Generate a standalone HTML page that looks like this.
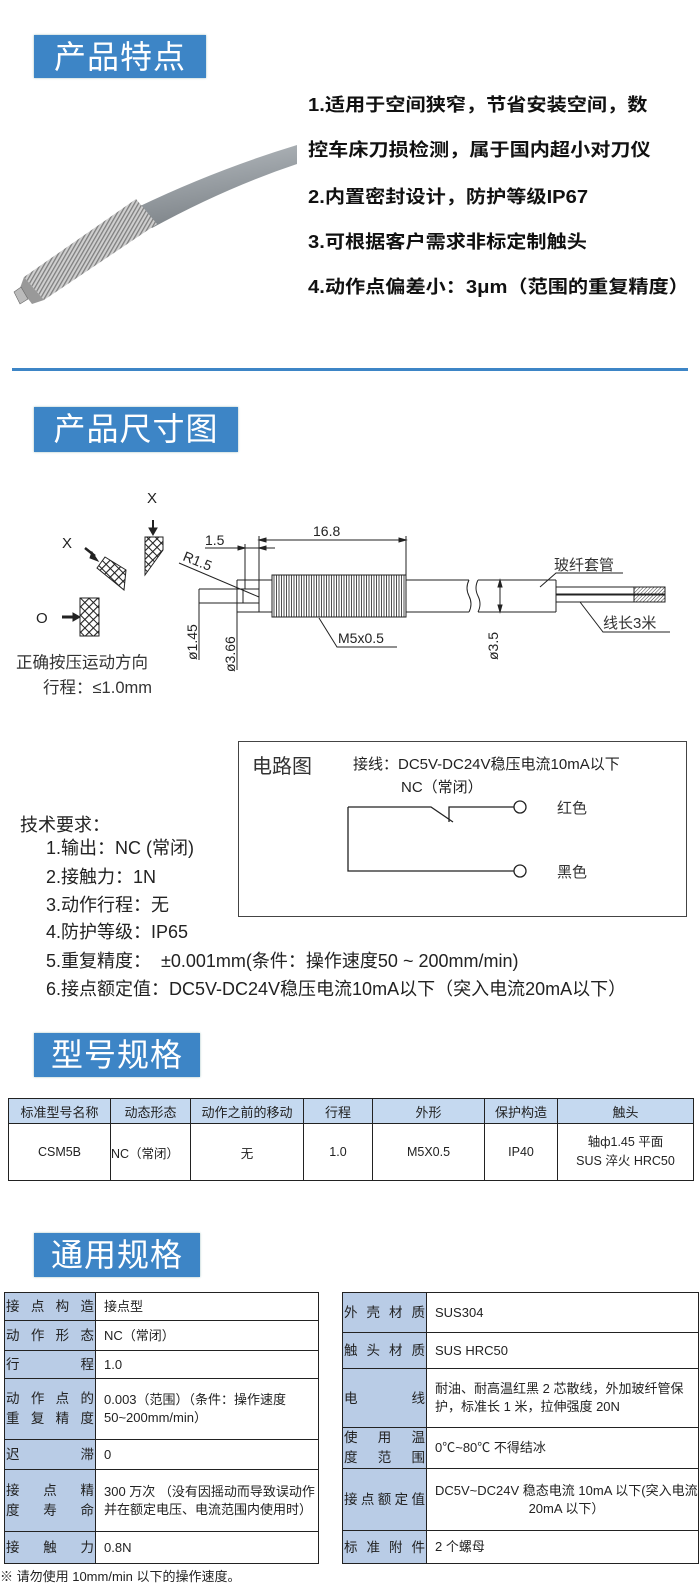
<!DOCTYPE html>
<html><head><meta charset="utf-8"><style>
*{margin:0;padding:0;box-sizing:border-box}
body{width:700px;height:1591px;background:#fff;position:relative;overflow:hidden;font-family:"Liberation Sans","Noto Sans CJK SC",sans-serif;color:#222}
.a{position:absolute;white-space:nowrap}
.hdr{position:absolute;background:#3d85c6;color:#fff;font-size:32px;text-align:center;line-height:44px;letter-spacing:1px;box-shadow:0 0 2px #9bb}
.feat{position:absolute;left:308px;font-size:18px;font-weight:bold;transform:scaleX(1.12);transform-origin:left center;line-height:20px;color:#111;white-space:nowrap}
.tech{position:absolute;left:46px;font-size:18px;color:#222;white-space:nowrap;line-height:20px}
table{border-collapse:collapse;position:absolute}
td{border:1.5px solid #222;font-size:12.5px;color:#222}
.mt td{text-align:center}
.mt tr.h td{background:#c5d9f0;font-size:13px}
.st td.l{background:#b9cce6;font-size:13.5px;padding:0 1px;text-align:justify;text-align-last:justify;line-height:27px}
.st td.v{padding-left:8px;font-size:13px;line-height:18px}
</style></head><body>

<div class="hdr" style="left:34px;top:35px;width:172px;height:43px">产品特点</div>

<svg class="a" style="left:0;top:130px" width="305" height="190" viewBox="0 130 305 190">
<defs>
<linearGradient id="cab" x1="0" y1="0" x2="0.3" y2="1"><stop offset="0" stop-color="#b9bec2"/><stop offset="0.5" stop-color="#9aa0a5"/><stop offset="1" stop-color="#7d8388"/></linearGradient>
<pattern id="thr" width="3.4" height="10" patternUnits="userSpaceOnUse" patternTransform="rotate(30)"><rect width="3.4" height="10" fill="#cfcfcf"/><rect width="1.3" height="10" fill="#7f7f7f"/></pattern>
</defs>
<path d="M138,207 Q215,170 297,145 L297,164 Q225,188 152,228 Z" fill="url(#cab)"/>
<polygon points="136,199 157,224 44,300 24,277" fill="url(#thr)"/>
<polygon points="24,277 44,300 32,304 20,288" fill="#999"/>
<polygon points="14,292 21,287 28,299 20,304" fill="#bbb" stroke="#666" stroke-width="0.6"/>
</svg>

<div class="feat" style="top:95px">1.适用于空间狭窄，节省安装空间，数</div>
<div class="feat" style="top:140px">控车床刀损检测，属于国内超小对刀仪</div>
<div class="feat" style="top:187px">2.内置密封设计，防护等级IP67</div>
<div class="feat" style="top:232px">3.可根据客户需求非标定制触头</div>
<div class="feat" style="top:277px">4.动作点偏差小：3μm（范围的重复精度）</div>

<div class="a" style="left:12px;top:368px;width:676px;height:3px;background:#3d85c6"></div>

<div class="hdr" style="left:34px;top:407px;width:204px;height:45px">产品尺寸图</div>

<svg class="a" style="left:0;top:470px" width="700" height="240" viewBox="0 470 700 240" font-family="Liberation Sans, Noto Sans CJK SC, sans-serif" fill="none" stroke="#222" stroke-width="1">
<defs><pattern id="h" width="6" height="6" patternUnits="userSpaceOnUse" patternTransform="rotate(45)"><rect width="6" height="6" fill="#fff"/><line x1="0" y1="0" x2="0" y2="6" stroke="#222" stroke-width="1.2"/></pattern>
<pattern id="w" width="2.5" height="4" patternUnits="userSpaceOnUse" patternTransform="rotate(45)"><line x1="0" y1="0" x2="0" y2="4" stroke="#333" stroke-width="1"/></pattern></defs>
<text x="147" y="503" font-size="15" fill="#222" stroke="none">X</text>
<line x1="153" y1="520" x2="153" y2="530" stroke-width="2"/><polygon points="149,528 157,528 153,535" fill="#222"/>
<polygon points="145,537 163,537 163,550 145,575" fill="url(#h)"/>
<text x="62" y="548" font-size="15" fill="#222" stroke="none">X</text>
<line x1="85" y1="548" x2="95" y2="556" stroke-width="2.5"/><polygon points="92,552 98,561 90,558" fill="#222"/>
<polygon points="105,557 126,570 124,590 97,568" fill="url(#h)"/>
<text x="36" y="623" font-size="15" fill="#222" stroke="none">O</text>
<line x1="62" y1="617" x2="74" y2="617" stroke-width="3"/><polygon points="73,613 80,617 73,621" fill="#222"/>
<rect x="80" y="598" width="19" height="38" fill="url(#h)"/>
<text x="16" y="668" font-size="16.5" fill="#333" stroke="none">正确按压运动方向</text>
<text x="43" y="693" font-size="16.5" fill="#333" stroke="none">行程：≤1.0mm</text>
<rect x="243" y="589" width="16" height="14"/>
<rect x="259" y="580" width="13" height="32"/>
<rect x="272" y="575" width="134" height="42" fill="#fff"/>
<g stroke-width="0.8">
<path d="M274,575v42M276.5,575v42M279,575v42M281.5,575v42M284,575v42M286.5,575v42M289,575v42M291.5,575v42M294,575v42M296.5,575v42M299,575v42M301.5,575v42M304,575v42M306.5,575v42M309,575v42M311.5,575v42M314,575v42M316.5,575v42M319,575v42M321.5,575v42M324,575v42M326.5,575v42M329,575v42M331.5,575v42M334,575v42M336.5,575v42M339,575v42M341.5,575v42M344,575v42M346.5,575v42M349,575v42M351.5,575v42M354,575v42M356.5,575v42M359,575v42M361.5,575v42M364,575v42M366.5,575v42M369,575v42M371.5,575v42M374,575v42M376.5,575v42M379,575v42M381.5,575v42M384,575v42M386.5,575v42M389,575v42M391.5,575v42M394,575v42M396.5,575v42M399,575v42M401.5,575v42M404,575v42"/>
</g>
<path d="M406,580H469 M406,612H469 M469,580 q-4,8 0,16 q4,8 0,16"/>
<path d="M478,580H556 M478,612H556 M478,580 q-4,8 0,16 q4,8 0,16 M556,580V612"/>
<rect x="556" y="587" width="78" height="7"/><rect x="556" y="595" width="78" height="7"/>
<rect x="634" y="587" width="31" height="7" fill="url(#w)"/><rect x="634" y="595" width="31" height="7" fill="url(#w)"/>
<path d="M259,540H406 M259,536V580 M406,536V575"/>
<polygon points="259,540 266,538 266,542" fill="#222"/><polygon points="406,540 399,538 399,542" fill="#222"/>
<text x="313" y="536" font-size="14" fill="#222" stroke="none">16.8</text>
<path d="M205,548H275 M245,544V589 M259,544V580"/>
<polygon points="245,548 238,546 238,550" fill="#222"/><polygon points="259,548 266,546 266,550" fill="#222"/>
<text x="205" y="545" font-size="14" fill="#222" stroke="none">1.5</text>
<line x1="179" y1="563" x2="259" y2="597"/>
<text x="0" y="0" font-size="14" fill="#222" stroke="none" transform="translate(182,560) rotate(22)">R1.5</text>
<path d="M199,589H243 M199,603H243 M199,589V660 M237,580H259 M237,612H259 M237,580V670"/>
<text font-size="14" fill="#222" stroke="none" transform="translate(197,660) rotate(-90)">ø1.45</text>
<text font-size="14" fill="#222" stroke="none" transform="translate(235,672) rotate(-90)">ø3.66</text>
<path d="M319,618L337,647H397"/>
<text x="338" y="643" font-size="14" fill="#222" stroke="none">M5x0.5</text>
<line x1="500" y1="580" x2="500" y2="612"/>
<polygon points="500,580 498,587 502,587" fill="#222"/><polygon points="500,612 498,605 502,605" fill="#222"/>
<text font-size="14" fill="#222" stroke="none" transform="translate(498,660) rotate(-90)">ø3.5</text>
<path d="M540,587L556,573H623 M580,602L603,632H670"/>
<text x="554" y="570" font-size="15" fill="#333" stroke="none">玻纤套管</text>
<text x="603" y="628" font-size="15" fill="#333" stroke="none">线长3米</text>
</svg>

<div class="a" style="left:238px;top:741px;width:449px;height:176px;border:1.5px solid #444"></div>
<div class="a" style="left:252px;top:750px;font-size:20px;color:#333">电路图</div>
<div class="a" style="left:353px;top:753px;font-size:15px;color:#222">接线：DC5V-DC24V稳压电流10mA以下</div>
<div class="a" style="left:401px;top:776px;font-size:15px;color:#222">NC（常闭）</div>
<svg class="a" style="left:340px;top:795px" width="300" height="90" viewBox="340 795 300 90" fill="none" stroke="#222" stroke-width="1.3">
<path d="M348,807H431L453,822 M449,822V807H514 M348,807V871H514"/>
<circle cx="520" cy="807" r="6" fill="#fff"/><circle cx="520" cy="871" r="6" fill="#fff"/>
<text x="557" y="813" font-size="15" fill="#333" stroke="none">红色</text>
<text x="557" y="877" font-size="15" fill="#333" stroke="none">黑色</text>
</svg>

<div class="tech" style="left:20px;top:815px">技术要求：</div>
<div class="tech" style="top:838px">1.输出：NC (常闭)</div>
<div class="tech" style="top:867px">2.接触力：1N</div>
<div class="tech" style="top:895px">3.动作行程：无</div>
<div class="tech" style="top:922px">4.防护等级：IP65</div>
<div class="tech" style="top:951px">5.重复精度：&nbsp; ±0.001mm(条件：操作速度50 ~ 200mm/min)</div>
<div class="tech" style="top:979px">6.接点额定值：DC5V-DC24V稳压电流10mA以下（突入电流20mA以下）</div>

<div class="hdr" style="left:34px;top:1033px;width:166px;height:44px">型号规格</div>

<table class="mt" style="left:8px;top:1098px;width:686px">
<tr class="h" style="height:25px"><td style="width:102px">标准型号名称</td><td style="width:80px">动态形态</td><td style="width:113px">动作之前的移动</td><td style="width:69px">行程</td><td style="width:112px">外形</td><td style="width:73px">保护构造</td><td>触头</td></tr>
<tr style="height:57px"><td>CSM5B</td><td style="text-align:left">NC（常闭）</td><td>无</td><td>1.0</td><td>M5X0.5</td><td>IP40</td><td style="line-height:19px">轴ф1.45 平面<br>SUS 淬火 HRC50</td></tr>
</table>

<div class="hdr" style="left:34px;top:1233px;width:166px;height:44px">通用规格</div>

<table class="st" style="left:4px;top:1292px;width:315px">
<tr style="height:28px"><td class="l" style="width:91px">接点构造</td><td class="v">接点型</td></tr>
<tr style="height:30px"><td class="l">动作形态</td><td class="v">NC（常闭）</td></tr>
<tr style="height:27px"><td class="l">行　　程</td><td class="v">1.0</td></tr>
<tr style="height:61px"><td class="l" style="line-height:20px">动作点的<br>重复精度</td><td class="v">0.003（范围）（条件：操作速度<br>50~200mm/min）</td></tr>
<tr style="height:30px"><td class="l">迟　　滞</td><td class="v">0</td></tr>
<tr style="height:62px"><td class="l" style="line-height:20px">接 点 精<br>度 寿 命</td><td class="v">300 万次 （没有因摇动而导致误动作并在额定电压、电流范围内使用时）</td></tr>
<tr style="height:32px"><td class="l">接 触 力</td><td class="v">0.8N</td></tr>
</table>
<div class="a" style="left:0;top:1566px;font-size:13px;color:#222">※ 请勿使用 10mm/min 以下的操作速度。</div>

<table class="st" style="left:342px;top:1292px;width:357px">
<tr style="height:40px"><td class="l" style="width:84px">外壳材质</td><td class="v">SUS304</td></tr>
<tr style="height:36px"><td class="l">触头材质</td><td class="v">SUS HRC50</td></tr>
<tr style="height:59px"><td class="l">电　　线</td><td class="v">耐油、耐高温红黑 2 芯散线，外加玻纤管保护，标准长 1 米，拉伸强度 20N</td></tr>
<tr style="height:41px"><td class="l" style="line-height:20px">使 用 温<br>度 范 围</td><td class="v">0℃~80℃ 不得结冰</td></tr>
<tr style="height:62px"><td class="l">接点额定值</td><td class="v">DC5V~DC24V 稳态电流 10mA 以下(突入电流<div style="text-align:center">20mA 以下）</div></td></tr>
<tr style="height:33px"><td class="l">标准附件</td><td class="v">2 个螺母</td></tr>
</table>
</body></html>
